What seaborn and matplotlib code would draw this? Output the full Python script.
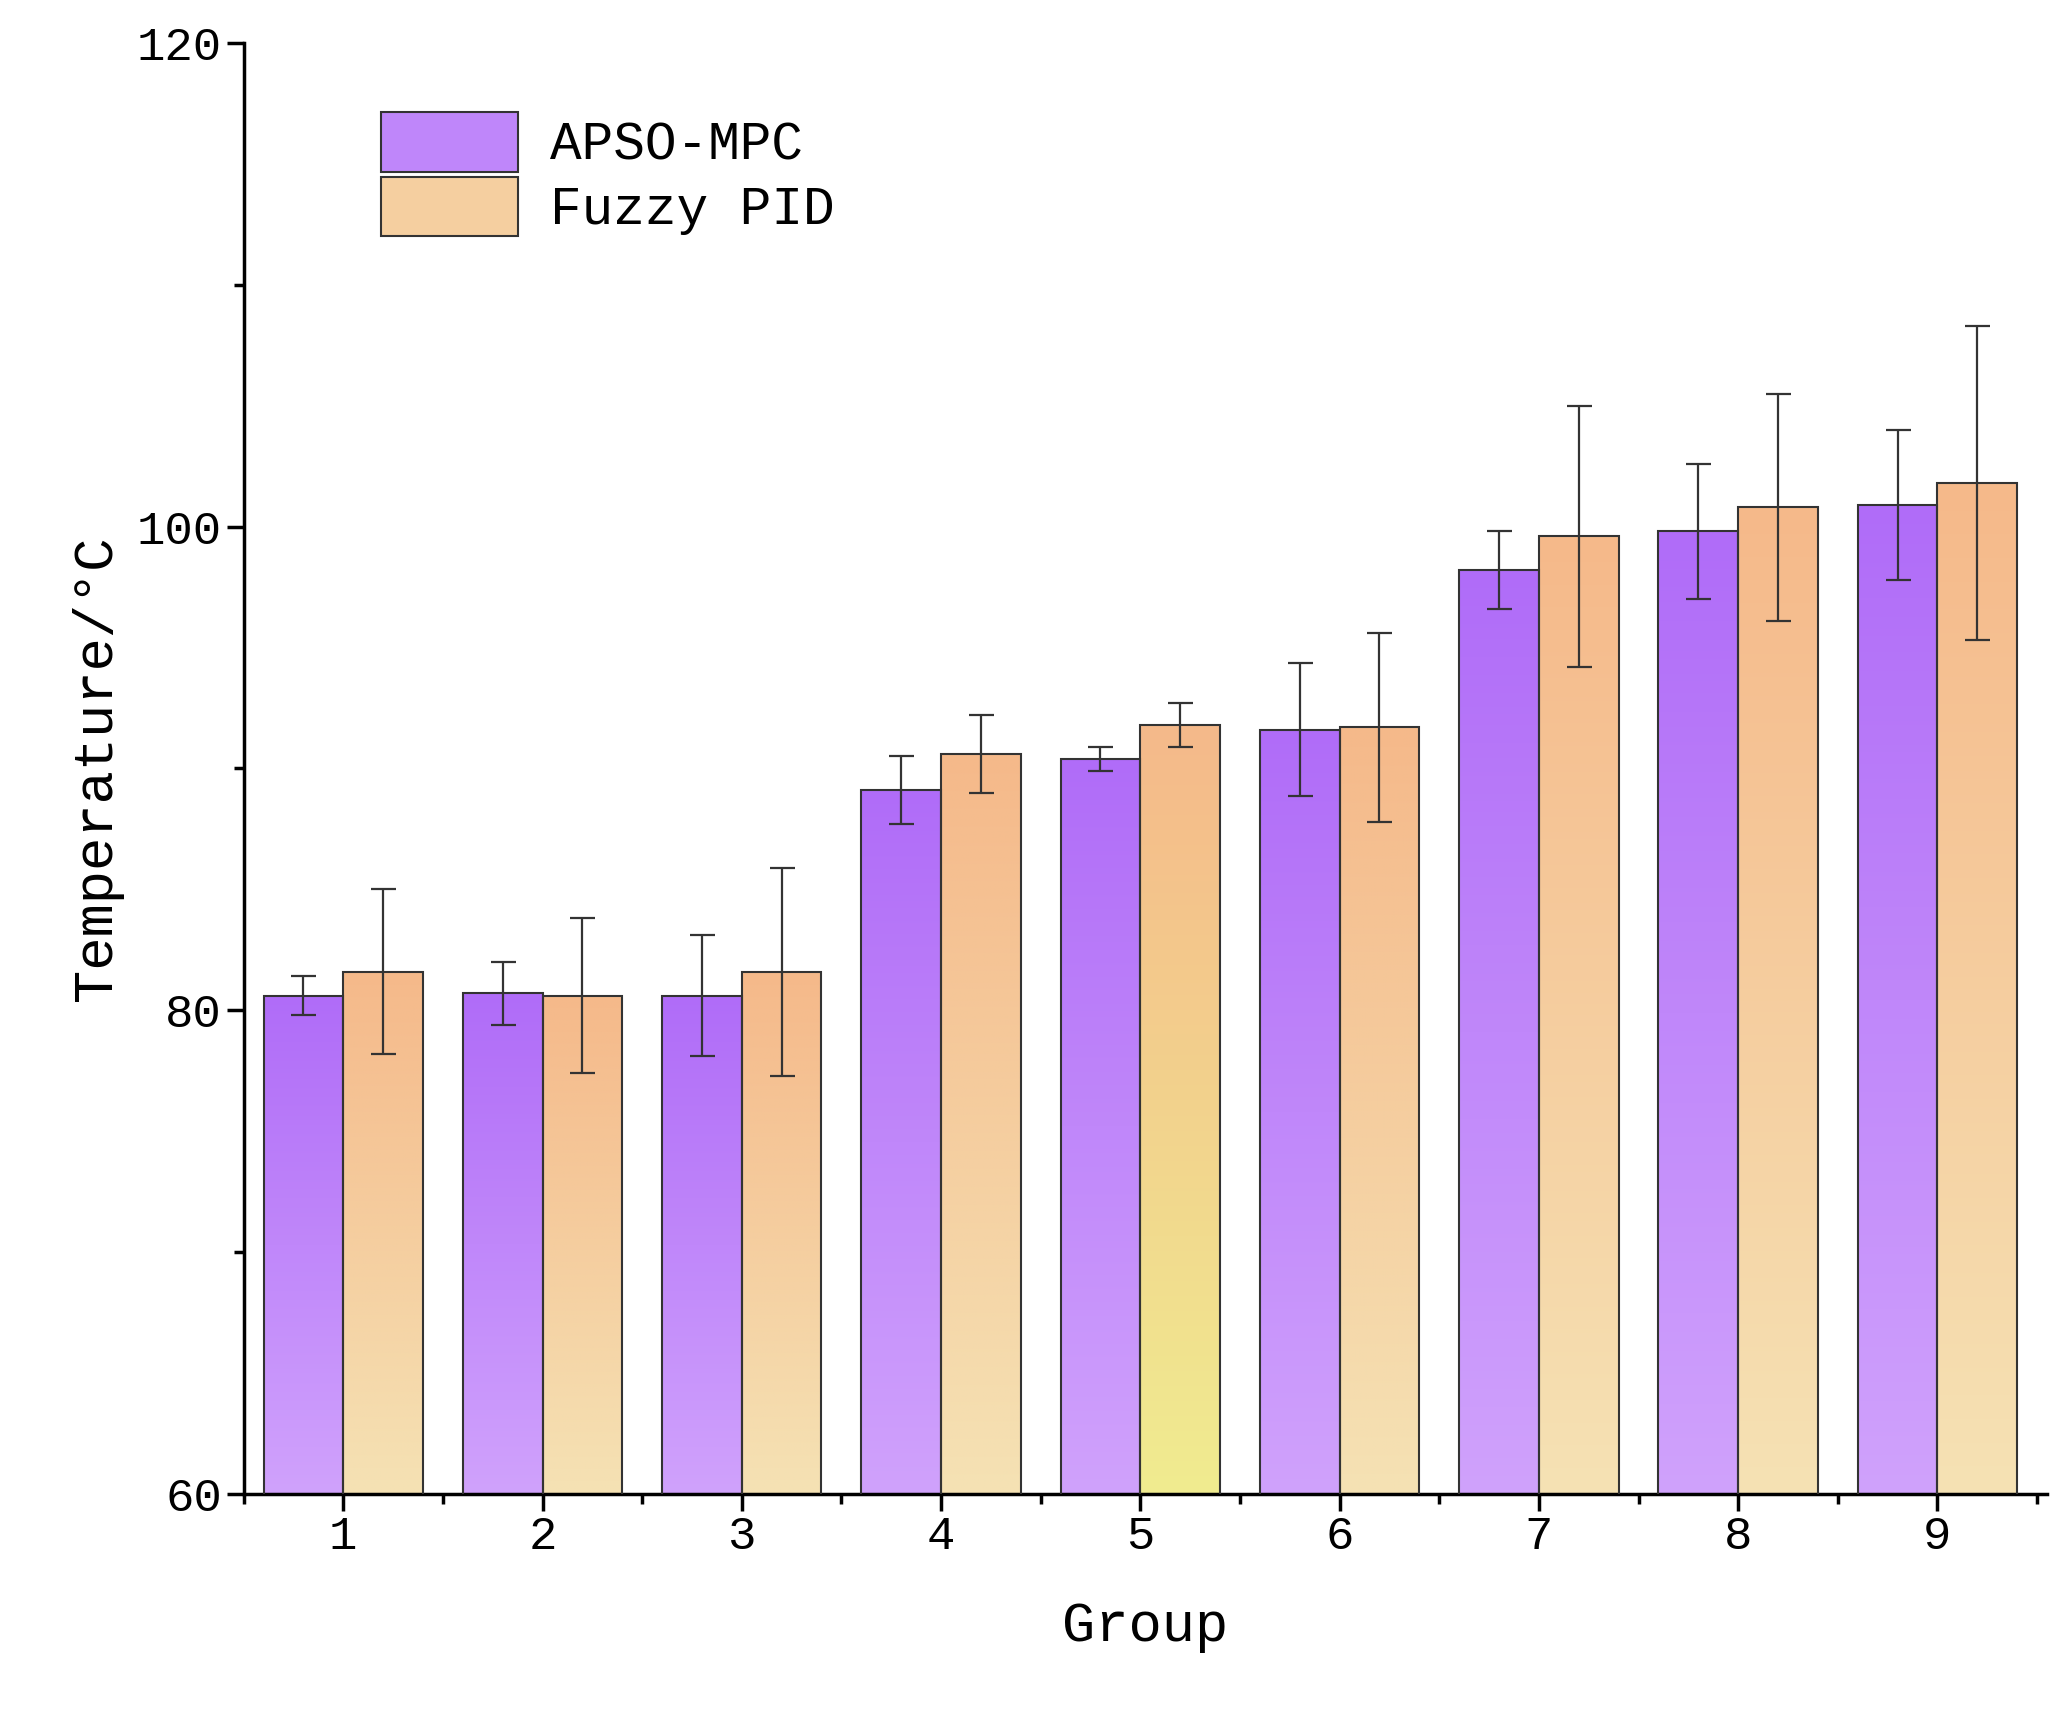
import numpy as np
import pandas as pd
import matplotlib
matplotlib.use("Agg")
import matplotlib.pyplot as plt
import seaborn as sns
from matplotlib.colors import LinearSegmentedColormap
from matplotlib.patches import Patch
from matplotlib.ticker import MultipleLocator

groups = ["1", "2", "3", "4", "5", "6", "7", "8", "9"]
apso = [80.6, 80.7, 80.6, 89.1, 90.4, 91.6, 98.2, 99.8, 100.9]
apso_err = [0.8, 1.3, 2.5, 1.4, 0.5, 2.75, 1.6, 2.8, 3.1]
fuzzy = [81.6, 80.6, 81.6, 90.6, 91.8, 91.7, 99.6, 100.8, 101.8]
fuzzy_err = [3.4, 3.2, 4.3, 1.6, 0.9, 3.9, 5.4, 4.7, 6.5]
series = ["APSO-MPC", "Fuzzy PID"]

plt.rcParams["font.family"] = "Liberation Mono"
df = pd.DataFrame({
    "Group": groups * 2,
    "Temp": apso + fuzzy,
    "Method": [series[0]] * 9 + [series[1]] * 9,
})

fig = plt.figure(figsize=(20.54, 17.21), dpi=100)
ax = fig.add_axes([0.1186, 0.132, 0.878, 0.843])
sns.barplot(data=df, x="Group", y="Temp", hue="Method", ax=ax, width=0.8,
            palette=["#b878f8", "#f5c898"], edgecolor="#333333", linewidth=1.5,
            legend=False)
ax.set_ylim(60, 120)
ax.set_xlim(-0.5, 8.55)

cm_p = LinearSegmentedColormap.from_list("p", ["#d0a2fc", "#b06cf8"])
cm_o = LinearSegmentedColormap.from_list("o", ["#f5e2b4", "#f5b98a"])
cm_y = LinearSegmentedColormap.from_list("y", ["#f0ec90", "#f5b98a"])
grad = np.linspace(0, 1, 256).reshape(-1, 1)
patches = [p for p in ax.patches if p.get_height() > 0][:18]
patches.sort(key=lambda p: p.get_x())
for i, p in enumerate(patches):
    x0, w, h = p.get_x(), p.get_width(), p.get_height()
    idx = i // 2
    if i % 2 == 0:
        cm = cm_p
    else:
        cm = cm_y if idx == 4 else cm_o
    im = ax.imshow(grad, cmap=cm, origin="lower", aspect="auto",
                   extent=[x0, x0 + w, 60, h], zorder=p.get_zorder() - 0.1)
    im.set_clip_path(p)
    p.set_facecolor("none")
    p.set_zorder(3)
    err = apso_err[idx] if i % 2 == 0 else fuzzy_err[idx]
    ax.errorbar(x0 + w / 2, h, yerr=err, color="#333333", capsize=9,
                elinewidth=1.6, capthick=1.6, zorder=4)

ax.set_ylim(60, 120)
ax.set_xlim(-0.5, 8.55)
for s in ["top", "right"]:
    ax.spines[s].set_visible(False)
for s in ["left", "bottom"]:
    ax.spines[s].set_linewidth(2.5)
ax.yaxis.set_major_locator(MultipleLocator(20))
ax.yaxis.set_minor_locator(MultipleLocator(10))
ax.set_xticks(range(9), groups)
ax.set_xticks(np.arange(-0.5, 9, 1), minor=True)
ax.tick_params(axis="both", which="major", length=12, width=2.5, labelsize=34, direction="out")
ax.tick_params(axis="both", which="minor", length=7, width=2.5, direction="out")
ax.set_xlabel("Group", fontsize=40, labelpad=30)
ax.set_ylabel("Temperature/°C", fontsize=40, labelpad=10)

handles = [Patch(facecolor="#bf86fa", edgecolor="#333333", linewidth=1.5),
           Patch(facecolor="#f5cfa0", edgecolor="#333333", linewidth=1.5)]
ax.legend(handles, series, loc="upper left", bbox_to_anchor=(0.05, 0.985),
          frameon=False, fontsize=38, handlelength=2.6, handleheight=1.35,
          handletextpad=0.6, labelspacing=0.1)

fig.savefig("out.png", dpi=100)
